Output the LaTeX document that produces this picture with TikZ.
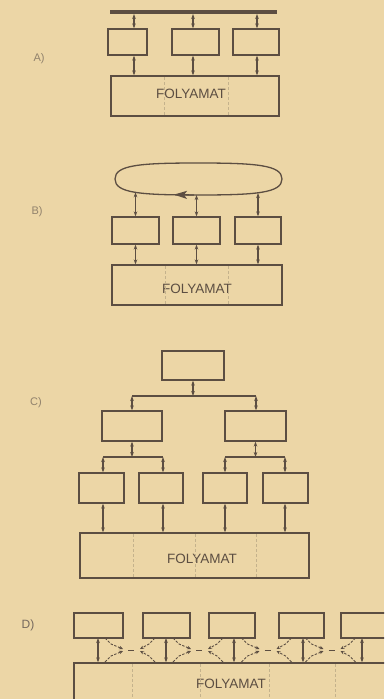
\documentclass[tikz,border=0pt]{standalone}
\usepackage{fontspec}
\setmainfont{Liberation Sans}
\usetikzlibrary{arrows.meta}
\definecolor{paper}{RGB}{236,214,166}
\definecolor{ink}{RGB}{92,78,66}
\definecolor{faint}{RGB}{196,178,140}
\definecolor{lbl}{RGB}{145,130,108}
\begin{document}
\begin{tikzpicture}[x=1pt,y=-1pt,
  box/.style={draw=ink, line width=1.3pt, inner sep=0pt, anchor=center},
  wire/.style={draw=ink, line width=1.1pt},
  link/.style={draw=ink, line width=1.1pt, {Stealth[length=5pt,width=3.6pt]}-{Stealth[length=5pt,width=3.6pt]}},
  sect/.style={draw=faint, line width=0.8pt, dash pattern=on 3pt off 2pt},
  proc/.style={text=ink, inner sep=0pt, font=\fontsize{13.5}{14}\selectfont},
  tag/.style={text=lbl, inner sep=0pt, font=\fontsize{11}{13}\selectfont},
  crossln/.style={draw=ink, line width=0.9pt, dash pattern=on 2.5pt off 1.5pt, -{Stealth[length=4pt,width=3.4pt]}}
]
\fill[paper] (0,0) rectangle (384,699);
\useasboundingbox (0,0) rectangle (384,699);
\clip (0,0) rectangle (384,699);

% ---------------- A ----------------
\node[tag] (tA) at (39,59) {A)};
\draw[draw=ink, line width=4pt] (110,12) coordinate (busL) -- (277,12) coordinate (busR);
\coordinate (ua1) at (134,14);
\coordinate (ua2) at (193,14);
\coordinate (ua3) at (257,14);
\node[box, minimum width=39pt, minimum height=26pt] (a1) at (127.5,42) {};
\node[box, minimum width=47pt, minimum height=26pt] (a2) at (195.5,42) {};
\node[box, minimum width=46pt, minimum height=26pt] (a3) at (256,42) {};
\node[box, minimum width=168pt, minimum height=40pt] (aP) at (195,96) {};
\node[proc] (aPt) at (191,94) {FOLYAMAT};
\draw[sect] (164,77) -- (164,115);
\draw[sect] (228,77) -- (228,115);
\foreach \u/\b in {ua1/a1,ua2/a2,ua3/a3}{
  \draw[link] (\u) -- (\u |- \b.north);
  \draw[link] (\u |- \b.south) -- (\u |- aP.north);
}

% ---------------- B ----------------
\node[tag] (tB) at (37,212) {B)};
\draw[draw=ink, line width=1.3pt] (115,179) .. controls (115,165) and (140,163) .. (198,163)
  .. controls (256,163) and (282,165) .. (282,179)
  .. controls (282,193) and (256,195) .. (198,195)
  .. controls (140,195) and (115,193) .. (115,179);
\draw[draw=ink, line width=1.3pt, -{Stealth[length=13pt,width=8pt,inset=3pt]}] (194,195) -- (174,194.6);
\coordinate (lb1) at (135.5,192.3);
\coordinate (lb2) at (196.5,195);
\coordinate (lb3) at (258,193);
\node[box, minimum width=47pt, minimum height=27pt] (b1) at (135.5,230.5) {};
\node[box, minimum width=47pt, minimum height=27pt] (b2) at (196.5,230.5) {};
\node[box, minimum width=46pt, minimum height=27pt] (b3) at (258,230.5) {};
\node[box, minimum width=170pt, minimum height=40pt] (bP) at (197,285) {};
\node[proc] (bPt) at (197,289) {FOLYAMAT};
\draw[sect] (165,266) -- (165,304);
\draw[sect] (228,266) -- (228,304);
\foreach \u/\b in {lb1/b1,lb2/b2,lb3/b3}{
  \draw[link] (\u) -- (\u |- \b.north);
  \draw[link] (\u |- \b.south) -- (\u |- bP.north);
}

% ---------------- C ----------------
\node[tag] (tC) at (36,403) {C)};
\node[box, minimum width=62pt, minimum height=29pt] (cT) at (193,365.5) {};
\node[box, minimum width=60pt, minimum height=30pt] (cL) at (132,426) {};
\node[box, minimum width=61pt, minimum height=30pt] (cR) at (255.5,426) {};
\node[box, minimum width=45pt, minimum height=30pt] (c1) at (101.5,488) {};
\node[box, minimum width=44pt, minimum height=30pt] (c2) at (161,488) {};
\node[box, minimum width=44pt, minimum height=30pt] (c3) at (225,488) {};
\node[box, minimum width=45pt, minimum height=30pt] (c4) at (285.5,488) {};
\node[box, minimum width=229pt, minimum height=45pt] (cP) at (194.5,555.5) {};
\node[proc] (cPt) at (202,558.5) {FOLYAMAT};
\draw[sect] (133,534) -- (133,577);
\draw[sect] (195,534) -- (195,577);
\draw[sect] (256,534) -- (256,577);
\coordinate (j0) at (193,396);
\coordinate (jL) at (132,396);
\coordinate (jR) at (256,396);
\draw[wire] (jL) -- (jR);
\draw[link] (cT.south) -- (j0);
\draw[link] (jL) -- (jL |- cL.north);
\draw[link] (jR) -- (jR |- cR.north);
\coordinate (kL) at (132,457);
\coordinate (kR) at (255.5,457);
\coordinate (k1) at (103,457);
\coordinate (k2) at (163,457);
\coordinate (k3) at (225,457);
\coordinate (k4) at (285,457);
\draw[wire] (k1) -- (k2);
\draw[wire] (k3) -- (k4);
\draw[link] (cL.south) -- (kL);
\draw[link] (cR.south) -- (kR);
\foreach \k/\b in {k1/c1,k2/c2,k3/c3,k4/c4}{
  \draw[link] (\k) -- (\k |- \b.north);
  \draw[link] (\k |- \b.south) -- (\k |- cP.north);
}

% ---------------- D ----------------
\node[tag, text=ink!85, font=\fontsize{12}{14}\selectfont] (tD) at (28,625) {D)};
\node[box, minimum width=49pt, minimum height=25pt] (d1) at (98.5,625.5) {};
\node[box, minimum width=47pt, minimum height=25pt] (d2) at (166.5,625.5) {};
\node[box, minimum width=46pt, minimum height=25pt] (d3) at (232,625.5) {};
\node[box, minimum width=45pt, minimum height=25pt] (d4) at (301.5,625.5) {};
\node[box, minimum width=49pt, minimum height=25pt] (d5) at (365.5,625.5) {};
\node[box, minimum width=330pt, minimum height=50pt] (dP) at (239,688) {};
\node[proc] (dPt) at (231,684) {FOLYAMAT};
\foreach \s in {132,200,269,335}{ \draw[sect] (\s,664) -- (\s,699); }
\coordinate (e1) at (98,638);
\coordinate (e2) at (166,638);
\coordinate (e3) at (234,638);
\coordinate (e4) at (303,638);
\coordinate (e5) at (362,638);
\foreach \e in {e1,e2,e3,e4,e5}{ \draw[link] (\e) -- (\e |- dP.north); }
\foreach \m in {132,200,268.5,332.5}{
  \draw[crossln] (\m-27,638) -- (\m-21,644) -- (\m-9,649);
  \draw[crossln] (\m-27,662) -- (\m-21,656) -- (\m-9,651);
  \draw[crossln] (\m+23,638) -- (\m+17,644) -- (\m+8,649);
  \draw[crossln] (\m+23,662) -- (\m+17,656) -- (\m+8,651);
  \draw[draw=ink, line width=0.9pt] (\m-4,650) -- (\m+2,650);
}
\end{tikzpicture}
\end{document}
